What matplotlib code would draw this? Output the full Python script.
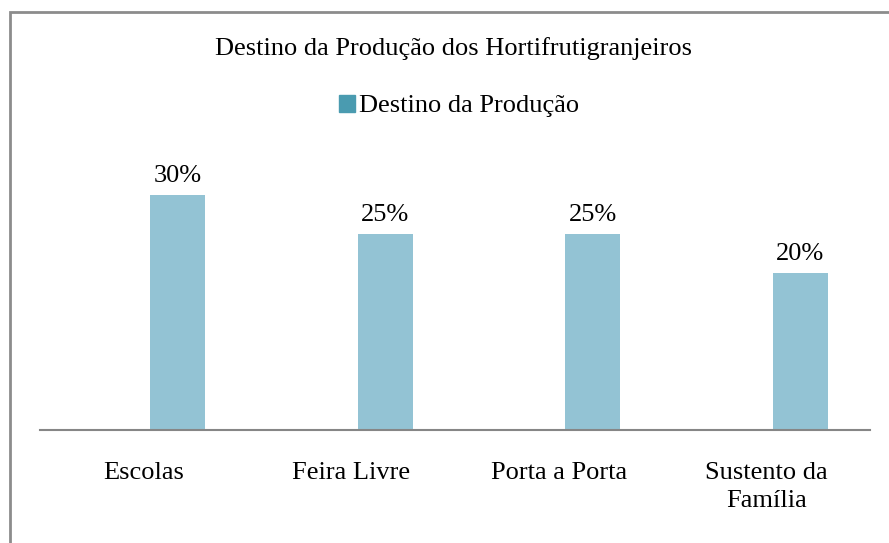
import numpy as np
import matplotlib.pyplot as plt
from matplotlib.patches import Rectangle

categories = ['Escolas', 'Feira Livre', 'Porta a Porta', 'Sustento da\nFamília']
values = [0.30, 0.25, 0.25, 0.20]
labels = ['30%', '25%', '25%', '20%']
series_name = 'Destino da Produção'
title = 'Destino da Produção dos Hortifrutigranjeiros'

plt.rcParams['font.family'] = ['Liberation Serif', 'DejaVu Serif']

W, H = 889, 543
fig = plt.figure(figsize=(W / 100, H / 100), dpi=100)
ax = fig.add_axes([40 / W, 113 / H, 830 / W, 274 / H])

x = np.arange(len(categories))
bars = ax.bar(x + 0.164, values, width=0.265, color='#93C3D4', label=series_name)
for b, lab in zip(bars, labels):
    ax.text(b.get_x() + b.get_width() / 2, b.get_height() + 0.011, lab,
            ha='center', va='bottom', fontsize=19)

ax.set_xlim(-0.5, 3.5)
ax.set_ylim(0, 0.35)
ax.set_xticks(x)
ax.set_xticklabels(categories, fontsize=19, linespacing=1.38)
ax.tick_params(axis='x', length=0, pad=23)
ax.set_yticks([])
for s in ['top', 'right', 'left']:
    ax.spines[s].set_visible(False)
ax.spines['bottom'].set_color('#868686')
ax.spines['bottom'].set_linewidth(1.5)

fig.text(453 / W, 1 - 49 / H, title, ha='center', va='center', fontsize=19)
fig.legend(handles=[Rectangle((0, 0), 1, 1, color='#4A9BB0')], labels=[series_name],
           loc='center', bbox_to_anchor=(459 / W, 1 - 106 / H), frameon=False,
           fontsize=19, handlelength=0.62, handleheight=0.62, handletextpad=0.15)

fig.patches.append(Rectangle((10 / W, -0.1), 1.2, 1 - 11.5 / H + 0.1, transform=fig.transFigure,
                             fill=False, edgecolor='#8C8C8C', linewidth=2))

fig.savefig('out.png', dpi=100)
